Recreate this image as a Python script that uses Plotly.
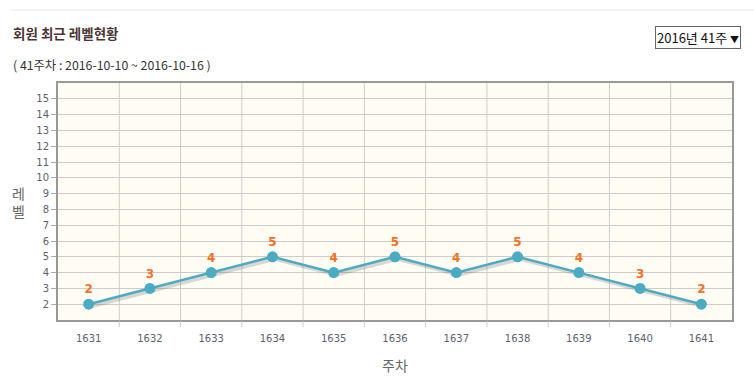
import plotly.graph_objects as go

weeks = ["1631", "1632", "1633", "1634", "1635", "1636", "1637", "1638", "1639", "1640", "1641"]
levels = [2, 3, 4, 5, 4, 5, 4, 5, 4, 3, 2]
y_ticks = list(range(2, 16))

idx = list(range(len(weeks)))
fig = go.Figure()

# soft shadow below the line
fig.add_trace(go.Scatter(
    x=[i + 0.04 for i in idx], y=[v - 0.13 for v in levels], mode="lines",
    line=dict(color="rgba(120,120,120,0.28)", width=4), hoverinfo="skip", showlegend=False))

fig.add_trace(go.Scatter(
    x=idx, y=levels, mode="lines+markers+text",
    line=dict(color="#4aabc3", width=2.5),
    marker=dict(color="#4aabc3", size=11),
    text=[str(v) for v in levels], textposition="top center",
    textfont=dict(color="#f5711f", size=12, family="DejaVu Sans", weight="bold"),
    showlegend=False))

fig.update_layout(
    width=754, height=378,
    margin=dict(l=58, r=22, t=83, b=58),
    paper_bgcolor="white", plot_bgcolor="#fffcf4",
    font=dict(family="DejaVu Sans", size=10, color="#555c66"),
    xaxis=dict(
        range=[-0.5, len(weeks) - 0.5], tickmode="array",
        tickvals=idx, ticktext=weeks, showgrid=False,
        ticks="", tickfont=dict(size=10, color="#5a6270"),
        ticklabelstandoff=8,
        showline=True, linecolor="#999999", linewidth=2, mirror=True,
        zeroline=False, fixedrange=True,
    ),
    yaxis=dict(
        range=[1, 16], tickmode="array", tickvals=y_ticks,
        ticktext=[str(t) for t in y_ticks],
        showgrid=True, gridcolor="#cccccc", gridwidth=1,
        ticks="outside", ticklen=5, tickcolor="#aaaaaa",
        tickfont=dict(size=10, color="#5a6270"),
        showline=True, linecolor="#999999", linewidth=2, mirror=True,
        zeroline=False, fixedrange=True,
    ),
)

# vertical grid lines at category boundaries
shapes = []
for b in range(1, len(weeks)):
    shapes.append(dict(type="line", xref="x", yref="paper", x0=b - 0.5, x1=b - 0.5, y0=0, y1=1,
                       line=dict(color="#cccccc", width=1), layer="below"))
    shapes.append(dict(type="line", xref="x", yref="paper", x0=b - 0.5, x1=b - 0.5, y0=-0.005, y1=-0.03,
                       line=dict(color="#cccccc", width=1)))
# top separator line
shapes.append(dict(type="line", xref="paper", yref="paper", x0=-0.07, x1=1.04, y0=1.308, y1=1.308,
                   line=dict(color="#e6e6e6", width=1)))
fig.update_layout(shapes=shapes)

annotations = [
    dict(text="<b>회원 최근 레벨현황</b>", xref="paper", yref="paper", x=-0.07, y=1.211,
         xanchor="left", yanchor="middle", showarrow=False,
         font=dict(family="Noto Sans CJK KR", size=13.5, color="#4a3535")),
    dict(text="( 41주차 : 2016-10-10 ~ 2016-10-16 )", xref="paper", yref="paper", x=-0.07, y=1.076,
         xanchor="left", yanchor="middle", showarrow=False,
         font=dict(family="Noto Sans CJK KR", size=12.3, color="#333333")),
    dict(text="2016년 41주 <span style='font-size:9px'>▼</span>", xref="paper", yref="paper", x=1.013, y=1.194,
         xanchor="right", yanchor="middle", showarrow=False,
         bordercolor="#666666", borderwidth=1, borderpad=1, bgcolor="white",
         font=dict(family="Noto Sans CJK KR", size=13, color="#111111")),
    dict(text="레<br>벨", xref="paper", yref="paper", x=-0.058, y=0.5,
         xanchor="center", yanchor="middle", showarrow=False,
         font=dict(family="Noto Sans CJK KR", size=14, color="#666666")),
    dict(text="주차", xref="paper", yref="paper", x=0.5, y=-0.19,
         xanchor="center", yanchor="middle", showarrow=False,
         font=dict(family="Noto Sans CJK KR", size=14, color="#666666")),
]
fig.update_layout(annotations=annotations)

fig.write_html("out.html")
